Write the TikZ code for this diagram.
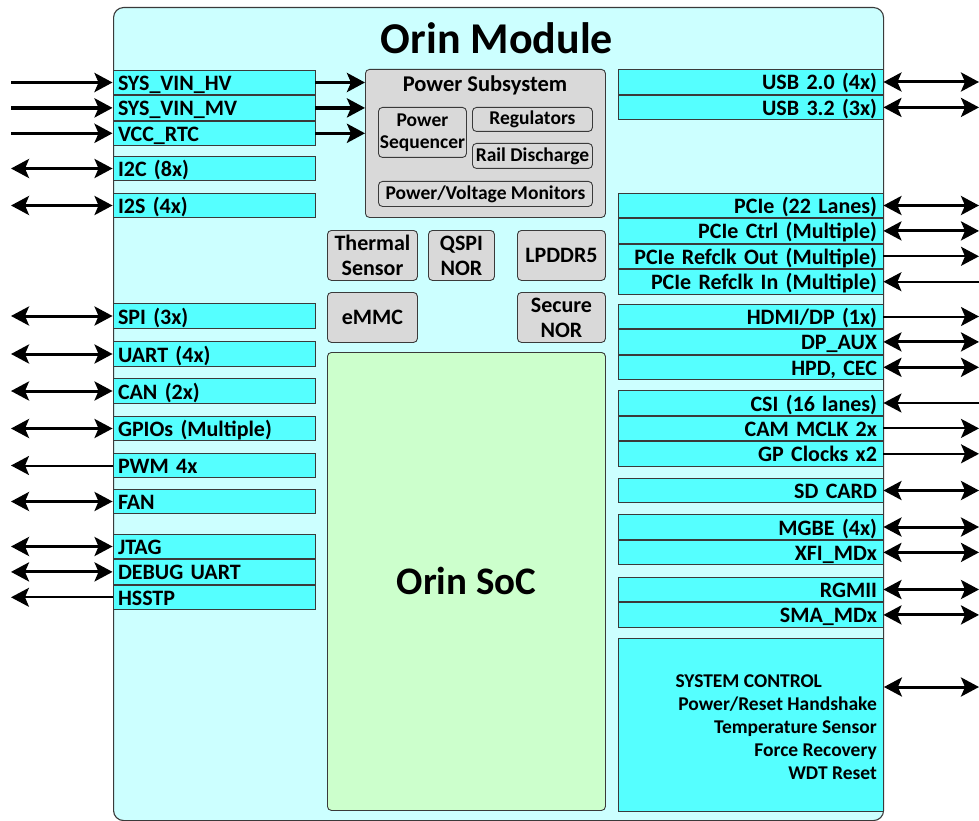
\documentclass[tikz,border=0pt]{standalone}
\usepackage{fontspec}
\setmainfont{Carlito}
\usetikzlibrary{arrows.meta,positioning}

\definecolor{modfill}{HTML}{CCFFFF}
\definecolor{sigfill}{HTML}{55FFFF}
\definecolor{blkfill}{HTML}{D9D9D9}
\definecolor{socfill}{HTML}{CCFFCC}
\definecolor{linegray}{HTML}{3A3A3A}

\tikzset{
  sig/.style={draw=linegray,fill=sigfill,line width=0.9pt,minimum height=24.5pt,
    inner ysep=0pt,text height=20pt,text depth=4pt,font=\bfseries\fontsize{22}{25}\selectfont},
  lsig/.style={sig,inner xsep=5pt,text width=192pt,align=left},
  rsig/.style={sig,inner xsep=6pt,text width=253pt,align=right},
  blk/.style={draw=linegray,fill=blkfill,line width=0.9pt,rounded corners=4pt,
    inner sep=0pt,align=center,anchor=north west,font=\bfseries\fontsize{22}{25}\selectfont},
  subblk/.style={blk,font=\bfseries\fontsize{19.5}{22}\selectfont},
  ctltext/.style={font=\bfseries\fontsize{19.5}{23}\selectfont},
  pwrin/.style={->,line width=3.5pt},
  bidir/.style={<->,line width=3pt},
  oneway/.style={->,line width=2pt}
}

\begin{document}
\begin{tikzpicture}[x=1pt,y=-1pt,node distance=0pt,>={Stealth[length=18pt,width=19pt,inset=4pt]}]
\useasboundingbox (0,0) rectangle (979,821);

% module outline
\node[draw=linegray,fill=modfill,line width=1.1pt,rounded corners=10pt,inner sep=0pt,
  minimum width=770pt,minimum height=813pt,anchor=north west] (module) at (113,7) {};
\node[font=\bfseries\fontsize{44}{48}\selectfont] (title) at (497,38) {Orin Module};

% left side signals
\node[lsig] (vinhv) at (214,82.5) {SYS\_VIN\_HV};
\node[lsig,below=of vinhv] (vinmv) {SYS\_VIN\_MV};
\node[lsig,below=of vinmv] (vccrtc) {VCC\_RTC};
\node[lsig] (i2c) at (214,168.5) {I2C (8x)};
\node[lsig] (i2s) at (214,205.5) {I2S (4x)};
\node[lsig] (spi) at (214,316) {SPI (3x)};
\node[lsig] (uart) at (214,354) {UART (4x)};
\node[lsig] (can) at (214,391) {CAN (2x)};
\node[lsig] (gpio) at (214,428.5) {GPIOs (Multiple)};
\node[lsig] (pwm) at (214,465.5) {PWM 4x};
\node[lsig] (fan) at (214,501.5) {FAN};
\node[lsig] (jtag) at (214,546.5) {JTAG};
\node[lsig,below=of jtag] (dbguart) {DEBUG UART};
\node[lsig,below=of dbguart] (hsstp) {HSSTP};

% power subsystem
\node[blk,minimum width=240pt,minimum height=148pt] (pwr) at (365,69) {};
\node[font=\bfseries\fontsize{22.5}{25}\selectfont] (pwrtitle) at (485,85) {Power Subsystem};
\node[subblk,minimum width=88pt,minimum height=50pt] (pseq) at (378,107) {Power\\Sequencer};
\node[subblk,minimum width=120pt,minimum height=24pt] (regs) at (472,107) {Regulators};
\node[subblk,minimum width=120pt,minimum height=25pt] (rail) at (472,143) {Rail Discharge};
\node[subblk,minimum width=214pt,minimum height=25pt] (mons) at (378,181) {Power/Voltage Monitors};

% memories and sensors
\node[blk,minimum width=90pt,minimum height=50pt] (thermal) at (327,230) {Thermal\\Sensor};
\node[blk,minimum width=66pt,minimum height=50pt] (qspi) at (428,230) {QSPI\\NOR};
\node[blk,minimum width=88pt,minimum height=50pt] (lpddr) at (517,230) {LPDDR5};
\node[blk,minimum width=90pt,minimum height=50pt] (emmc) at (327,292) {eMMC};
\node[blk,minimum width=88pt,minimum height=50pt] (snor) at (517,292) {Secure\\NOR};
\node[blk,fill=socfill,minimum width=278pt,minimum height=458pt,
  font=\bfseries\fontsize{39}{42}\selectfont] (soc) at (327,352) {Orin SoC};

% right side signals
\node[rsig] (usb2) at (750.5,82) {USB 2.0 (4x)};
\node[rsig,below=of usb2] (usb3) {USB 3.2 (3x)};
\node[rsig] (pcie) at (750.5,205.5) {PCIe (22 Lanes)};
\node[rsig,below=of pcie] (pciectl) {PCIe Ctrl (Multiple)};
\node[rsig,below=of pciectl] (refout) {PCIe Refclk Out (Multiple)};
\node[rsig,below=of refout] (refin) {PCIe Refclk In (Multiple)};
\node[rsig] (hdmi) at (750.5,316.5) {HDMI/DP (1x)};
\node[rsig,below=of hdmi] (dpaux) {DP\_AUX};
\node[rsig,below=of dpaux] (hpd) {HPD, CEC};
\node[rsig] (csi) at (750.5,403) {CSI (16 lanes)};
\node[rsig,below=of csi] (mclk) {CAM MCLK 2x};
\node[rsig,below=of mclk] (gpclk) {GP Clocks x2};
\node[rsig] (sdcard) at (750.5,490.5) {SD CARD};
\node[rsig] (mgbe) at (750.5,527) {MGBE (4x)};
\node[rsig,below=of mgbe] (xfi) {XFI\_MDx};
\node[rsig] (rgmii) at (750.5,589.5) {RGMII};
\node[rsig,below=of rgmii] (sma) {SMA\_MDx};
\node[sig,minimum width=265pt,minimum height=173pt,anchor=north west] (sysctl) at (618,638) {};
\node[ctltext,anchor=west] (ctlhead) at (672,681) {SYSTEM CONTROL};
\node[ctltext,align=right,anchor=north east,inner sep=0pt]
  (ctllist) at (877,697) {Power/Reset Handshake\\Temperature Sensor\\Force Recovery\\WDT Reset};

% connector ends
\coordinate (lend) at (11,0);
\coordinate (rend) at (979,0);
\coordinate (ctlport) at (sysctl.east |- 0,687);

% left connectors
\draw[pwrin] (vinhv.west -| lend) -- (vinhv.west);
\draw[pwrin] (vinmv.west -| lend) -- (vinmv.west);
\draw[pwrin] (vccrtc.west -| lend) -- (vccrtc.west);
\draw[pwrin] (vinhv.east) -- (vinhv.east -| pwr.west);
\draw[pwrin] (vinmv.east) -- (vinmv.east -| pwr.west);
\draw[pwrin] (vccrtc.east) -- (vccrtc.east -| pwr.west);
\draw[bidir] (i2c.west -| lend) -- (i2c.west);
\draw[bidir] (i2s.west -| lend) -- (i2s.west);
\draw[bidir] (spi.west -| lend) -- (spi.west);
\draw[bidir] (uart.west -| lend) -- (uart.west);
\draw[bidir] (can.west -| lend) -- (can.west);
\draw[bidir] (gpio.west -| lend) -- (gpio.west);
\draw[oneway] (pwm.west) -- (pwm.west -| lend);
\draw[bidir] (fan.west -| lend) -- (fan.west);
\draw[bidir] (jtag.west -| lend) -- (jtag.west);
\draw[bidir] (dbguart.west -| lend) -- (dbguart.west);
\draw[oneway] (hsstp.west) -- (hsstp.west -| lend);

% right connectors
\draw[bidir] (usb2.east) -- (usb2.east -| rend);
\draw[bidir] (usb3.east) -- (usb3.east -| rend);
\draw[bidir] (pcie.east) -- (pcie.east -| rend);
\draw[bidir] (pciectl.east) -- (pciectl.east -| rend);
\draw[oneway] (refout.east) -- (refout.east -| rend);
\draw[oneway] (refin.east -| rend) -- (refin.east);
\draw[oneway] (hdmi.east) -- (hdmi.east -| rend);
\draw[bidir] (dpaux.east) -- (dpaux.east -| rend);
\draw[bidir] (hpd.east) -- (hpd.east -| rend);
\draw[oneway] (csi.east -| rend) -- (csi.east);
\draw[oneway] (mclk.east) -- (mclk.east -| rend);
\draw[oneway] (gpclk.east) -- (gpclk.east -| rend);
\draw[bidir] (sdcard.east) -- (sdcard.east -| rend);
\draw[bidir] (mgbe.east) -- (mgbe.east -| rend);
\draw[bidir] (xfi.east) -- (xfi.east -| rend);
\draw[bidir] (rgmii.east) -- (rgmii.east -| rend);
\draw[bidir] (sma.east) -- (sma.east -| rend);
\draw[bidir] (ctlport) -- (ctlport -| rend);
\end{tikzpicture}
\end{document}
